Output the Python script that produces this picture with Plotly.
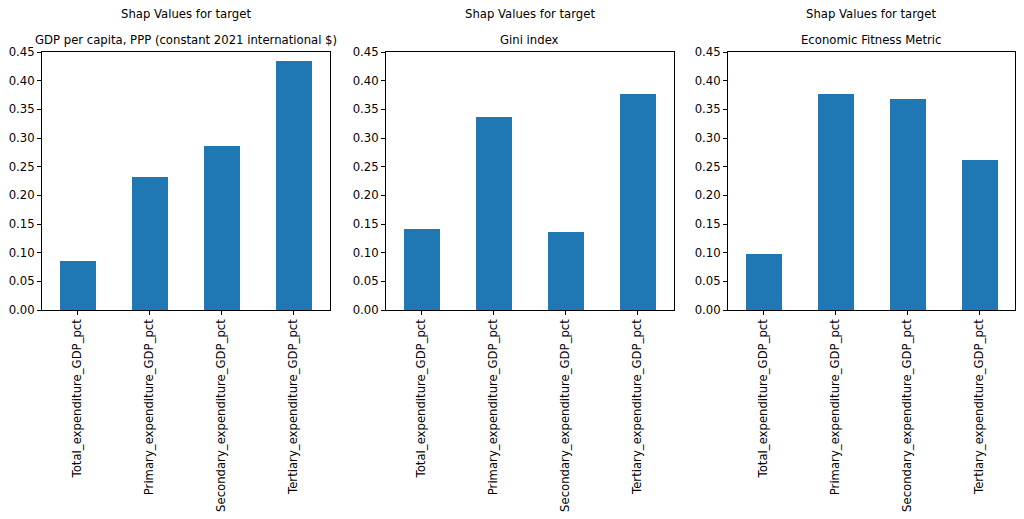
import plotly.graph_objects as go

categories = ["Total_expenditure_GDP_pct", "Primary_expenditure_GDP_pct",
              "Secondary_expenditure_GDP_pct", "Tertiary_expenditure_GDP_pct"]
targets = ["GDP per capita, PPP (constant 2021 international $)", "Gini index", "Economic Fitness Metric"]
shap_gdp = [0.086, 0.232, 0.286, 0.435]
shap_gini = [0.141, 0.337, 0.136, 0.376]
shap_efm = [0.0975, 0.377, 0.3675, 0.261]
series = [shap_gdp, shap_gini, shap_efm]
y_ticks = [0.0, 0.05, 0.10, 0.15, 0.20, 0.25, 0.30, 0.35, 0.40, 0.45]

W, H = 1024, 519
x_px = [(41.5, 329.5), (385.5, 673.5), (727.5, 1015.0)]
y_top, y_bot = 52.0, 310.0

font = dict(family="DejaVu Sans", size=11.67, color="black")
fig = go.Figure()
for i, (vals, tgt, (xl, xr)) in enumerate(zip(series, targets, x_px)):
    n = "" if i == 0 else str(i + 1)
    fig.add_trace(go.Bar(x=list(range(len(categories))), y=vals, width=0.5,
                         marker=dict(color="#1f77b4", line=dict(width=0)),
                         xaxis="x" + n, yaxis="y" + n, showlegend=False))
    axcommon = dict(showline=True, mirror=True, linecolor="black", linewidth=1,
                    ticks="outside", ticklen=3.5, tickwidth=0.8, tickcolor="black",
                    showgrid=False, zeroline=False, tickfont=font, automargin=False)
    fig.layout["xaxis" + n] = dict(domain=[xl / W, xr / W], anchor="y" + n,
                                   range=[-0.5, 3.5], tickmode="array",
                                   tickvals=list(range(len(categories))), ticktext=categories,
                                   tickangle=-90, **axcommon)
    fig.layout["yaxis" + n] = dict(domain=[1 - y_bot / H, 1 - y_top / H], anchor="x" + n,
                                   range=[0, 0.45], tickmode="array", tickvals=y_ticks,
                                   ticktext=[f"{v:.2f}" for v in y_ticks], **axcommon)
    cx = (xl + xr) / 2 / W
    fig.add_annotation(x=cx, y=1 - 14 / H, xref="paper", yref="paper", text="Shap Values for target",
                       showarrow=False, font=font, xanchor="center", yanchor="middle")
    fig.add_annotation(x=cx, y=1 - 40 / H, xref="paper", yref="paper", text=tgt,
                       showarrow=False, font=font, xanchor="center", yanchor="middle")

fig.update_layout(width=W, height=H, margin=dict(l=0, r=0, t=0, b=0),
                  paper_bgcolor="white", plot_bgcolor="white", bargap=0, font=font)
fig.write_html("out.html", config={"displayModeBar": False},
               post_script="document.body.style.margin='0';document.body.style.overflow='hidden';")
